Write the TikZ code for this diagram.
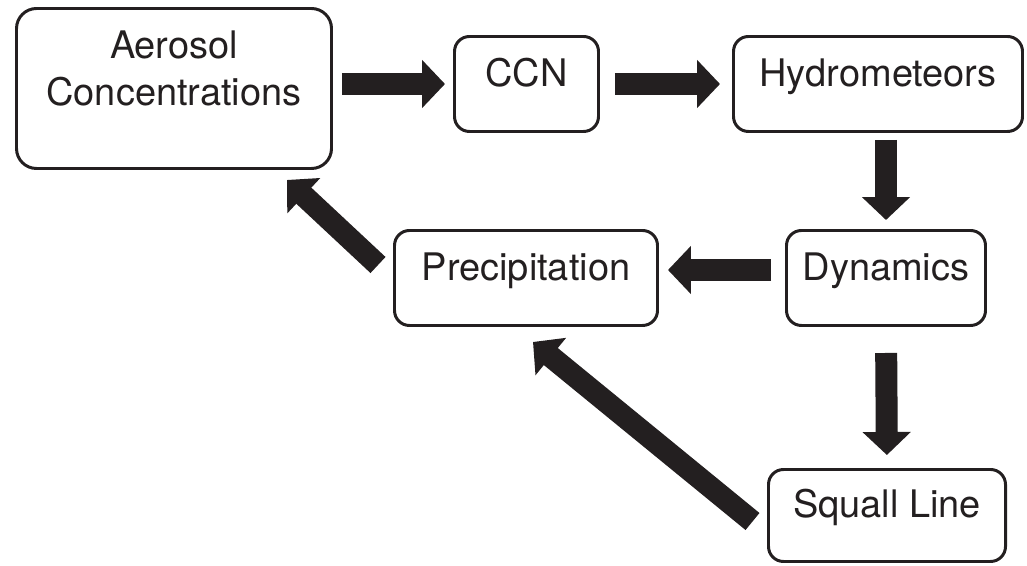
\documentclass[tikz,border=0pt]{standalone}
\usepackage{fontspec}
\setmainfont{TeX Gyre Heros}
\usetikzlibrary{arrows.meta}
\definecolor{ink}{HTML}{231F20}

\begin{document}
\begin{tikzpicture}[
		every node/.style={font=\fontsize{21.6}{26.8}\selectfont, text=ink},
		stage/.style={draw=ink, line width=1.7pt, rounded corners=0.3cm, align=center,
				minimum height=1.9cm, text height=0.75em, text depth=0.5em},
		flow/.style={draw=ink, line width=0.44cm, -{Triangle[width=0.94cm, length=0.46cm]}},
	]
	\useasboundingbox (0,0) rectangle (20.54,-11.32);

	% boxes
	\node [stage, minimum width=6.3cm, minimum height=3.2cm, rounded corners=0.4cm,
		text height=2.28em, text depth=0.3em] (aero) at (3.48,-1.77) {Aerosol\\Concentrations};
	\node [stage, minimum width=2.88cm] (ccn) at (10.53,-1.68) {CCN};
	\node [stage, minimum width=5.78cm] (hydro) at (17.56,-1.68) {Hydrometeors};
	\node [stage, minimum width=5.26cm] (prec) at (10.52,-5.56) {Precipitation};
	\node [stage, minimum width=3.98cm] (dyn) at (17.72,-5.56) {Dynamics};
	\node [stage, minimum width=4.74cm, minimum height=1.84cm] (squall) at (17.74,-10.31) {Squall Line};

	% block arrows
	\draw [flow, shorten <=0.18cm, shorten >=0.16cm] (aero.east |- ccn.west) -- (ccn.west);
	\draw [flow, shorten <=0.3cm, shorten >=0.24cm] (ccn.east) -- (hydro.west);
	\draw [flow, shorten <=0.14cm, shorten >=0.18cm] (dyn.north |- hydro.south) -- (dyn.north);
	\draw [flow, shorten <=0.28cm, shorten >=0.18cm] ([yshift=0.16cm]dyn.west) -- ([yshift=0.16cm]prec.east);
	\draw [flow, shorten <=0.52cm, shorten >=0.26cm] (dyn.south) -- (squall.north);
	\draw [flow] ([shift={(-0.3,0.26)}]prec.west) -- ([shift={(-0.92,-0.2)}]aero.south east);
	\draw [flow] ([shift={(-0.29,-0.12)}]squall.west) -- ([shift={(0.14,-0.3)}]prec.south);
\end{tikzpicture}
\end{document}
